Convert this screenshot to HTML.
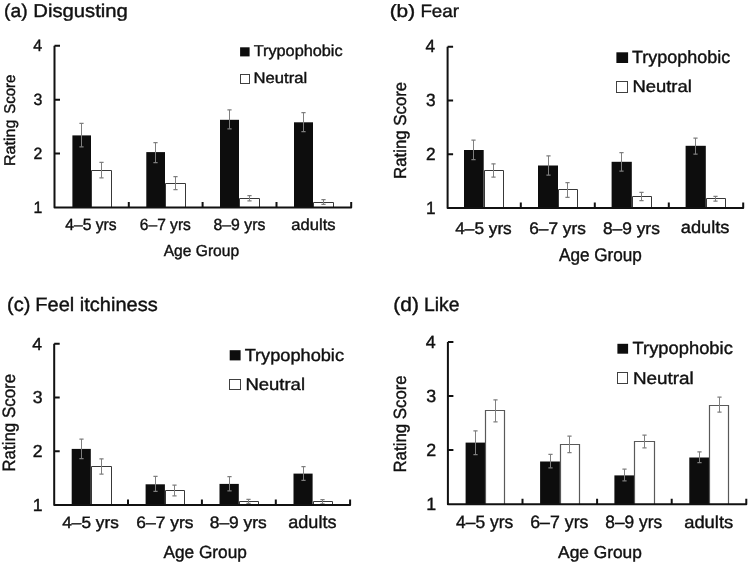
<!DOCTYPE html>
<html><head><meta charset="utf-8"><title>Trypophobia ratings</title>
<style>html,body{margin:0;padding:0;background:#fff;}svg{display:block;}text{font-family:"Liberation Sans",sans-serif;fill:#111;stroke:#111;stroke-width:0.4px;text-rendering:geometricPrecision;}svg{filter:grayscale(1) blur(0.3px);}</style>
</head><body>
<svg width="749" height="565" viewBox="0 0 749 565">
<rect width="749" height="565" fill="#fff"/>
<rect x="72.40" y="135.40" width="18.60" height="72.10" fill="#0d0d0d"/>
<path d="M91.50 207.50V170.50H111.50V207.50" fill="#fff" stroke="#383838" stroke-width="1"/>
<path d="M81.50 123.40V146.80" stroke="#7f7f7f" stroke-width="1" fill="none"/>
<path d="M79.40 123.40H83.60M79.40 146.80H83.60" stroke="#7f7f7f" stroke-width="1.25" fill="none"/>
<path d="M101.50 162.40V177.90" stroke="#7f7f7f" stroke-width="1" fill="none"/>
<path d="M99.40 162.40H103.60M99.40 177.90H103.60" stroke="#7f7f7f" stroke-width="1.25" fill="none"/>
<rect x="146.30" y="152.10" width="18.70" height="55.40" fill="#0d0d0d"/>
<path d="M165.50 207.50V183.50H185.50V207.50" fill="#fff" stroke="#383838" stroke-width="1"/>
<path d="M155.50 142.60V162.70" stroke="#7f7f7f" stroke-width="1" fill="none"/>
<path d="M153.40 142.60H157.60M153.40 162.70H157.60" stroke="#7f7f7f" stroke-width="1.25" fill="none"/>
<path d="M175.50 176.60V189.70" stroke="#7f7f7f" stroke-width="1" fill="none"/>
<path d="M173.40 176.60H177.60M173.40 189.70H177.60" stroke="#7f7f7f" stroke-width="1.25" fill="none"/>
<rect x="220.00" y="119.80" width="19.00" height="87.70" fill="#0d0d0d"/>
<path d="M239.50 207.50V198.50H259.50V207.50" fill="#fff" stroke="#383838" stroke-width="1"/>
<path d="M229.50 109.90V128.90" stroke="#7f7f7f" stroke-width="1" fill="none"/>
<path d="M227.40 109.90H231.60M227.40 128.90H231.60" stroke="#7f7f7f" stroke-width="1.25" fill="none"/>
<path d="M249.50 195.60V200.80" stroke="#7f7f7f" stroke-width="1" fill="none"/>
<path d="M247.40 195.60H251.60M247.40 200.80H251.60" stroke="#7f7f7f" stroke-width="1.25" fill="none"/>
<rect x="294.00" y="122.30" width="19.00" height="85.20" fill="#0d0d0d"/>
<path d="M313.50 207.50V202.50H333.50V207.50" fill="#fff" stroke="#383838" stroke-width="1"/>
<path d="M303.50 112.70V131.60" stroke="#7f7f7f" stroke-width="1" fill="none"/>
<path d="M301.40 112.70H305.60M301.40 131.60H305.60" stroke="#7f7f7f" stroke-width="1.25" fill="none"/>
<path d="M323.50 199.60V204.30" stroke="#7f7f7f" stroke-width="1" fill="none"/>
<path d="M321.40 199.60H325.60M321.40 204.30H325.60" stroke="#7f7f7f" stroke-width="1.25" fill="none"/>
<path d="M54.50 45.80V207.50H351.20V202.00M54.50 45.80H60.00M54.50 99.70H60.00M54.50 153.60H60.00M128.80 207.50V202.00M202.60 207.50V202.00M276.50 207.50V202.00" stroke="#111" stroke-width="2" fill="none" stroke-linejoin="round"/>
<rect x="240.1" y="47.3" width="9.5" height="9.100000000000001" fill="#0d0d0d"/>
<rect x="240.5" y="74.5" width="9.0" height="9.0" fill="#fff" stroke="#404040" stroke-width="1"/>
<text transform="translate(4.04,17.20) scale(1.0389,1)" font-size="18.55" fill="#000">(a)</text>
<text transform="translate(33.28,17.20) scale(1.0924,1)" font-size="18.55" fill="#000">Disgusting</text>
<text transform="translate(253.67,56.40) scale(1.0301,1)" font-size="15.80" fill="#000">Trypophobic</text>
<text transform="translate(253.57,83.40) scale(1.0924,1)" font-size="15.22" fill="#000">Neutral</text>
<text transform="translate(65.29,230.00) scale(0.9662,1)" font-size="16.23" fill="#000">4–5 yrs</text>
<text transform="translate(139.82,230.00) scale(0.9598,1)" font-size="16.23" fill="#000">6–7 yrs</text>
<text transform="translate(213.57,230.00) scale(0.9722,1)" font-size="16.23" fill="#000">8–9 yrs</text>
<text transform="translate(291.34,229.70) scale(1.0424,1)" font-size="15.89" fill="#000">adults</text>
<text transform="translate(163.70,256.40) scale(0.9782,1)" font-size="15.94" fill="#000">Age Group</text>
<text transform="translate(15.00,113.85) rotate(-90) scale(0.9673,1)" font-size="15.51" fill="#000">Score</text>
<text transform="translate(15.00,165.99) rotate(-90) scale(1.0365,1)" font-size="15.51" fill="#000">Rating</text>
<text transform="translate(33.28,50.70) scale(0.9698,1)" font-size="16.38">4</text>
<text transform="translate(33.60,104.63) scale(0.9698,1)" font-size="16.38">3</text>
<text transform="translate(33.60,158.57) scale(0.9698,1)" font-size="16.38">2</text>
<text transform="translate(33.60,212.50) scale(0.9698,1)" font-size="16.38">1</text>
<rect x="464.00" y="150.00" width="19.70" height="58.00" fill="#0d0d0d"/>
<path d="M484.50 208.00V170.50H503.50V208.00" fill="#fff" stroke="#383838" stroke-width="1"/>
<path d="M473.50 140.10V159.70" stroke="#7f7f7f" stroke-width="1" fill="none"/>
<path d="M471.40 140.10H475.60M471.40 159.70H475.60" stroke="#7f7f7f" stroke-width="1.25" fill="none"/>
<path d="M493.50 163.80V177.00" stroke="#7f7f7f" stroke-width="1" fill="none"/>
<path d="M491.40 163.80H495.60M491.40 177.00H495.60" stroke="#7f7f7f" stroke-width="1.25" fill="none"/>
<rect x="538.00" y="165.50" width="20.00" height="42.50" fill="#0d0d0d"/>
<path d="M558.50 208.00V189.50H577.50V208.00" fill="#fff" stroke="#383838" stroke-width="1"/>
<path d="M548.50 155.90V175.00" stroke="#7f7f7f" stroke-width="1" fill="none"/>
<path d="M546.40 155.90H550.60M546.40 175.00H550.60" stroke="#7f7f7f" stroke-width="1.25" fill="none"/>
<path d="M567.50 182.50V197.30" stroke="#7f7f7f" stroke-width="1" fill="none"/>
<path d="M565.40 182.50H569.60M565.40 197.30H569.60" stroke="#7f7f7f" stroke-width="1.25" fill="none"/>
<rect x="611.60" y="161.80" width="20.20" height="46.20" fill="#0d0d0d"/>
<path d="M632.50 208.00V196.50H651.50V208.00" fill="#fff" stroke="#383838" stroke-width="1"/>
<path d="M621.50 152.50V171.00" stroke="#7f7f7f" stroke-width="1" fill="none"/>
<path d="M619.40 152.50H623.60M619.40 171.00H623.60" stroke="#7f7f7f" stroke-width="1.25" fill="none"/>
<path d="M641.50 192.40V200.70" stroke="#7f7f7f" stroke-width="1" fill="none"/>
<path d="M639.40 192.40H643.60M639.40 200.70H643.60" stroke="#7f7f7f" stroke-width="1.25" fill="none"/>
<rect x="685.60" y="145.80" width="20.20" height="62.20" fill="#0d0d0d"/>
<path d="M706.50 208.00V198.50H725.50V208.00" fill="#fff" stroke="#383838" stroke-width="1"/>
<path d="M695.50 138.00V154.20" stroke="#7f7f7f" stroke-width="1" fill="none"/>
<path d="M693.40 138.00H697.60M693.40 154.20H697.60" stroke="#7f7f7f" stroke-width="1.25" fill="none"/>
<path d="M715.50 196.40V201.20" stroke="#7f7f7f" stroke-width="1" fill="none"/>
<path d="M713.40 196.40H717.60M713.40 201.20H717.60" stroke="#7f7f7f" stroke-width="1.25" fill="none"/>
<path d="M447.60 46.80V208.00H743.20V202.50M447.60 46.80H453.10M447.60 100.53H453.10M447.60 154.27H453.10M520.80 208.00V202.50M594.80 208.00V202.50M668.80 208.00V202.50" stroke="#111" stroke-width="2" fill="none" stroke-linejoin="round"/>
<rect x="616.4" y="52.3" width="11.700000000000045" height="10.700000000000003" fill="#0d0d0d"/>
<rect x="616.5" y="81.5" width="11.0" height="11.0" fill="#fff" stroke="#404040" stroke-width="1"/>
<text transform="translate(389.65,17.10) scale(1.1678,1)" font-size="17.83" fill="#000">(b)</text>
<text transform="translate(420.40,17.10) scale(1.0533,1)" font-size="17.83" fill="#000">Fear</text>
<text transform="translate(632.04,63.00) scale(1.0164,1)" font-size="17.68" fill="#000">Trypophobic</text>
<text transform="translate(632.42,92.20) scale(1.0876,1)" font-size="16.96" fill="#000">Neutral</text>
<text transform="translate(455.26,233.60) scale(1.0252,1)" font-size="16.81" fill="#000">4–5 yrs</text>
<text transform="translate(529.24,233.60) scale(1.0274,1)" font-size="16.81" fill="#000">6–7 yrs</text>
<text transform="translate(602.90,233.60) scale(1.0335,1)" font-size="16.81" fill="#000">8–9 yrs</text>
<text transform="translate(680.77,233.40) scale(1.0581,1)" font-size="17.26" fill="#000">adults</text>
<text transform="translate(559.00,261.40) scale(0.9312,1)" font-size="18.41" fill="#000">Age Group</text>
<text transform="translate(405.50,178.95) rotate(-90) scale(0.9671,1)" font-size="17.39" fill="#000">Rating Score</text>
<text transform="translate(425.55,52.40) scale(0.9759,1)" font-size="17.68">4</text>
<text transform="translate(425.90,106.20) scale(0.9759,1)" font-size="17.68">3</text>
<text transform="translate(425.90,160.00) scale(0.9759,1)" font-size="17.68">2</text>
<text transform="translate(425.90,213.80) scale(0.9759,1)" font-size="17.68">1</text>
<rect x="71.70" y="448.90" width="19.10" height="56.10" fill="#0d0d0d"/>
<path d="M91.50 505.00V466.50H111.50V505.00" fill="#fff" stroke="#383838" stroke-width="1"/>
<path d="M81.50 439.00V458.50" stroke="#7f7f7f" stroke-width="1" fill="none"/>
<path d="M79.40 439.00H83.60M79.40 458.50H83.60" stroke="#7f7f7f" stroke-width="1.25" fill="none"/>
<path d="M101.50 458.90V474.00" stroke="#7f7f7f" stroke-width="1" fill="none"/>
<path d="M99.40 458.90H103.60M99.40 474.00H103.60" stroke="#7f7f7f" stroke-width="1.25" fill="none"/>
<rect x="145.60" y="484.30" width="19.30" height="20.70" fill="#0d0d0d"/>
<path d="M165.50 505.00V490.50H184.50V505.00" fill="#fff" stroke="#383838" stroke-width="1"/>
<path d="M155.50 476.40V491.40" stroke="#7f7f7f" stroke-width="1" fill="none"/>
<path d="M153.40 476.40H157.60M153.40 491.40H157.60" stroke="#7f7f7f" stroke-width="1.25" fill="none"/>
<path d="M174.50 485.00V495.80" stroke="#7f7f7f" stroke-width="1" fill="none"/>
<path d="M172.40 485.00H176.60M172.40 495.80H176.60" stroke="#7f7f7f" stroke-width="1.25" fill="none"/>
<rect x="219.50" y="483.90" width="19.30" height="21.10" fill="#0d0d0d"/>
<path d="M239.50 505.00V501.50H258.50V505.00" fill="#fff" stroke="#383838" stroke-width="1"/>
<path d="M229.50 476.60V490.80" stroke="#7f7f7f" stroke-width="1" fill="none"/>
<path d="M227.40 476.60H231.60M227.40 490.80H231.60" stroke="#7f7f7f" stroke-width="1.25" fill="none"/>
<path d="M248.50 499.40V503.40" stroke="#7f7f7f" stroke-width="1" fill="none"/>
<path d="M246.40 499.40H250.60M246.40 503.40H250.60" stroke="#7f7f7f" stroke-width="1.25" fill="none"/>
<rect x="293.50" y="473.60" width="19.10" height="31.40" fill="#0d0d0d"/>
<path d="M313.50 505.00V501.50H332.50V505.00" fill="#fff" stroke="#383838" stroke-width="1"/>
<path d="M303.50 466.70V480.30" stroke="#7f7f7f" stroke-width="1" fill="none"/>
<path d="M301.40 466.70H305.60M301.40 480.30H305.60" stroke="#7f7f7f" stroke-width="1.25" fill="none"/>
<path d="M322.50 499.60V503.80" stroke="#7f7f7f" stroke-width="1" fill="none"/>
<path d="M320.40 499.60H324.60M320.40 503.80H324.60" stroke="#7f7f7f" stroke-width="1.25" fill="none"/>
<path d="M54.20 343.70V505.00H350.10V499.50M54.20 343.70H59.70M54.20 397.47H59.70M54.20 451.23H59.70M128.00 505.00V499.50M201.90 505.00V499.50M275.80 505.00V499.50" stroke="#111" stroke-width="2" fill="none" stroke-linejoin="round"/>
<rect x="229.7" y="350.2" width="10.900000000000006" height="10.199999999999989" fill="#0d0d0d"/>
<rect x="229.5" y="379.5" width="11.0" height="10.0" fill="#fff" stroke="#404040" stroke-width="1"/>
<text transform="translate(7.10,311.40) scale(1.0299,1)" font-size="19.42" fill="#000">(c)</text>
<text transform="translate(35.30,311.40) scale(1.0316,1)" font-size="19.42" fill="#000">Feel itchiness</text>
<text transform="translate(244.64,360.60) scale(1.0460,1)" font-size="17.39" fill="#000">Trypophobic</text>
<text transform="translate(245.42,390.10) scale(1.0914,1)" font-size="16.96" fill="#000">Neutral</text>
<text transform="translate(62.26,528.40) scale(1.0432,1)" font-size="16.52" fill="#000">4–5 yrs</text>
<text transform="translate(136.23,528.40) scale(1.0568,1)" font-size="16.52" fill="#000">6–7 yrs</text>
<text transform="translate(209.70,528.40) scale(1.0535,1)" font-size="16.52" fill="#000">8–9 yrs</text>
<text transform="translate(288.28,528.40) scale(1.0147,1)" font-size="17.81" fill="#000">adults</text>
<text transform="translate(163.40,558.40) scale(0.9845,1)" font-size="17.54" fill="#000">Age Group</text>
<text transform="translate(14.80,471.65) rotate(-90) scale(0.9485,1)" font-size="17.83" fill="#000">Rating Score</text>
<text transform="translate(32.35,349.50) scale(1.0147,1)" font-size="17.39">4</text>
<text transform="translate(32.70,403.20) scale(1.0147,1)" font-size="17.39">3</text>
<text transform="translate(32.70,456.90) scale(1.0147,1)" font-size="17.39">2</text>
<text transform="translate(32.70,510.60) scale(1.0147,1)" font-size="17.39">1</text>
<rect x="465.60" y="442.60" width="19.40" height="61.60" fill="#0d0d0d"/>
<path d="M485.50 504.20V410.50H504.50V504.20" fill="#fff" stroke="#595959" stroke-width="1.2"/>
<path d="M475.50 430.90V454.60" stroke="#7f7f7f" stroke-width="1" fill="none"/>
<path d="M473.40 430.90H477.60M473.40 454.60H477.60" stroke="#7f7f7f" stroke-width="1.25" fill="none"/>
<path d="M495.50 399.80V421.80" stroke="#7f7f7f" stroke-width="1" fill="none"/>
<path d="M493.40 399.80H497.60M493.40 421.80H497.60" stroke="#7f7f7f" stroke-width="1.25" fill="none"/>
<rect x="540.10" y="461.50" width="19.80" height="42.70" fill="#0d0d0d"/>
<path d="M560.50 504.20V444.50H579.50V504.20" fill="#fff" stroke="#595959" stroke-width="1.2"/>
<path d="M550.50 454.30V467.80" stroke="#7f7f7f" stroke-width="1" fill="none"/>
<path d="M548.40 454.30H552.60M548.40 467.80H552.60" stroke="#7f7f7f" stroke-width="1.25" fill="none"/>
<path d="M569.50 436.10V452.50" stroke="#7f7f7f" stroke-width="1" fill="none"/>
<path d="M567.40 436.10H571.60M567.40 452.50H571.60" stroke="#7f7f7f" stroke-width="1.25" fill="none"/>
<rect x="614.40" y="475.40" width="19.60" height="28.80" fill="#0d0d0d"/>
<path d="M634.50 504.20V441.50H654.50V504.20" fill="#fff" stroke="#595959" stroke-width="1.2"/>
<path d="M624.50 469.10V480.80" stroke="#7f7f7f" stroke-width="1" fill="none"/>
<path d="M622.40 469.10H626.60M622.40 480.80H626.60" stroke="#7f7f7f" stroke-width="1.25" fill="none"/>
<path d="M644.50 435.00V447.80" stroke="#7f7f7f" stroke-width="1" fill="none"/>
<path d="M642.40 435.00H646.60M642.40 447.80H646.60" stroke="#7f7f7f" stroke-width="1.25" fill="none"/>
<rect x="689.30" y="457.50" width="19.70" height="46.70" fill="#0d0d0d"/>
<path d="M709.50 504.20V405.50H728.50V504.20" fill="#fff" stroke="#595959" stroke-width="1.2"/>
<path d="M699.50 451.90V462.50" stroke="#7f7f7f" stroke-width="1" fill="none"/>
<path d="M697.40 451.90H701.60M697.40 462.50H701.60" stroke="#7f7f7f" stroke-width="1.25" fill="none"/>
<path d="M719.50 397.20V412.10" stroke="#7f7f7f" stroke-width="1" fill="none"/>
<path d="M717.40 397.20H721.60M717.40 412.10H721.60" stroke="#7f7f7f" stroke-width="1.25" fill="none"/>
<path d="M447.90 341.90V504.20H746.30V498.70M447.90 341.90H453.40M447.90 396.00H453.40M447.90 450.10H453.40M522.50 504.20V498.70M597.10 504.20V498.70M671.70 504.20V498.70" stroke="#111" stroke-width="2" fill="none" stroke-linejoin="round"/>
<rect x="617.4" y="343.8" width="10.700000000000045" height="9.899999999999977" fill="#0d0d0d"/>
<rect x="617.5" y="372.5" width="10.0" height="11.0" fill="#fff" stroke="#404040" stroke-width="1"/>
<text transform="translate(393.35,311.40) scale(1.0767,1)" font-size="19.42" fill="#000">(d)</text>
<text transform="translate(424.05,311.40) scale(0.9967,1)" font-size="19.42" fill="#000">Like</text>
<text transform="translate(632.53,354.00) scale(1.0383,1)" font-size="17.68" fill="#000">Trypophobic</text>
<text transform="translate(632.89,383.70) scale(1.0938,1)" font-size="17.25" fill="#000">Neutral</text>
<text transform="translate(456.05,528.00) scale(0.9695,1)" font-size="17.97" fill="#000">4–5 yrs</text>
<text transform="translate(530.21,528.00) scale(0.9891,1)" font-size="17.97" fill="#000">6–7 yrs</text>
<text transform="translate(605.31,528.00) scale(0.9651,1)" font-size="17.97" fill="#000">8–9 yrs</text>
<text transform="translate(684.16,527.50) scale(1.0564,1)" font-size="17.40" fill="#000">adults</text>
<text transform="translate(558.10,557.70) scale(1.0132,1)" font-size="17.10" fill="#000">Age Group</text>
<text transform="translate(405.80,472.55) rotate(-90) scale(0.9523,1)" font-size="17.68" fill="#000">Rating Score</text>
<text transform="translate(425.84,347.50) scale(1.0092,1)" font-size="17.68">4</text>
<text transform="translate(426.20,401.77) scale(1.0092,1)" font-size="17.68">3</text>
<text transform="translate(426.20,456.03) scale(1.0092,1)" font-size="17.68">2</text>
<text transform="translate(426.20,510.30) scale(1.0092,1)" font-size="17.68">1</text>
</svg>
</body></html>
